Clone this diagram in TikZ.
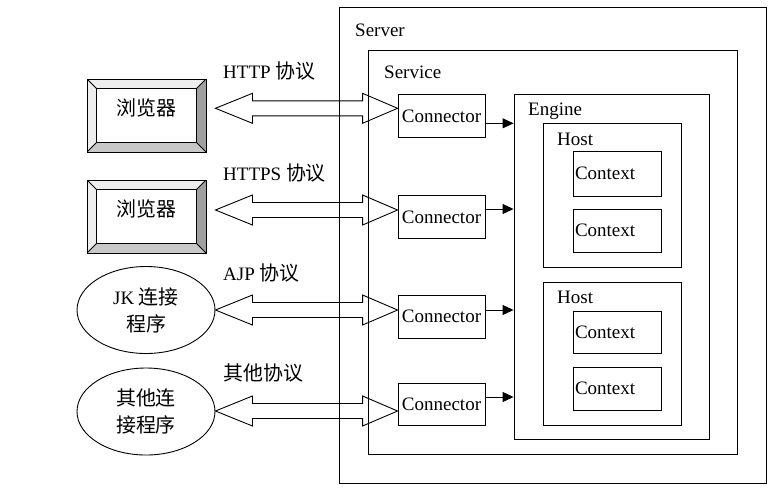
\documentclass[tikz,border=0pt]{standalone}
\usepackage{fontspec}
\setmainfont{Liberation Serif}
\newfontfamily\cjk[Scale=1.05]{Noto Sans CJK SC}
\usetikzlibrary{arrows.meta,positioning,calc,shapes.geometric}
\definecolor{bevellight}{RGB}{238,238,238}
\definecolor{bevelmid}{RGB}{200,200,200}
\definecolor{beveldark}{RGB}{160,160,160}
\tikzset{frame/.style={draw,line width=0.9pt,inner sep=0pt},tag/.style={anchor=base west,inner sep=0pt,font=\fontsize{19}{27}\selectfont},part/.style={frame,fill=white,font=\fontsize{19}{27}\selectfont},ctxbox/.style={part,text width=84pt,align=left,inner xsep=2pt},client/.style={draw,ellipse,line width=0.9pt,minimum width=138pt,minimum height=87pt,align=center,inner sep=0pt,font=\fontsize{19}{27}\selectfont},bevel/.style={draw,line width=0.9pt,minimum width=119pt,minimum height=73pt,inner sep=0pt,text height=0pt,text depth=0pt,font=\fontsize{19}{27}\selectfont,path picture={
\path (path picture bounding box.north west) coordinate (o1) (path picture bounding box.north east) coordinate (o2) (path picture bounding box.south east) coordinate (o3) (path picture bounding box.south west) coordinate (o4);
\path ([shift={(9.5pt,-9.5pt)}]o1) coordinate (i1) ([shift={(-9.5pt,-9.5pt)}]o2) coordinate (i2) ([shift={(-9.5pt,9.5pt)}]o3) coordinate (i3) ([shift={(9.5pt,9.5pt)}]o4) coordinate (i4);
\fill[bevellight] (o1)--(o2)--(i2)--(i1)--cycle (o1)--(i1)--(i4)--(o4)--cycle;
\fill[bevelmid] (o4)--(i4)--(i3)--(o3)--cycle;
\fill[beveldark] (o2)--(o3)--(i3)--(i2)--cycle;
\draw[line width=0.9pt] (o1)--(i1) (o2)--(i2) (o3)--(i3) (o4)--(i4) (i1) rectangle (i3);}},blockarrow/.style={draw,line width=0.9pt,line join=miter},feed/.style={-{Triangle[length=11pt,width=10pt]},line width=0.9pt}}

\begin{document}
\begin{tikzpicture}[x=1pt,y=-1pt]
\useasboundingbox (0,0) rectangle (779,499);
% containers
\node[frame,minimum width=427pt,minimum height=476pt] (server) at (552.5,245) {};
\node[frame,minimum width=369pt,minimum height=404pt] (service) at (552.5,252) {};
\node[frame,minimum width=195pt,minimum height=345pt] (engine) at (611.5,266.5) {};
\node[frame,minimum width=138pt,minimum height=144pt] (host1) at (612,195) {};
\node[frame,minimum width=138pt,minimum height=143pt] (host2) at (612,353.5) {};
\node[tag] (serverlabel) at (355,36) {Server};
\node[tag] (servicelabel) at (384,78) {Service};
\node[tag] (enginelabel) at (528,115) {Engine};
\node[tag] (host1label) at (557,145) {Host};
\node[tag] (host2label) at (557,303) {Host};
% contexts
\node[ctxbox,minimum height=45pt] (ctx1) at (617,173.5) {Context};
\node[ctxbox,minimum height=43pt] (ctx2) at (617,230.5) {Context};
\node[ctxbox,minimum height=42pt] (ctx3) at (617,332) {Context};
\node[ctxbox,minimum height=43pt] (ctx4) at (617,388.5) {Context};
% connectors
\node[part,minimum width=87pt,minimum height=43pt] (conn1) at (441.5,115.8) {Connector};
\node[part,minimum width=87pt,minimum height=43pt] (conn2) at (441.5,217) {Connector};
\node[part,minimum width=87pt,minimum height=43pt] (conn3) at (441.5,316.5) {Connector};
\node[part,minimum width=87pt,minimum height=42pt] (conn4) at (441.5,404) {Connector};
% clients
\node[bevel] (br1) at (146.5,115.5) {\cjk 浏览器};
\node[bevel] (br2) at (146.5,216.5) {\cjk 浏览器};
\node[client] (jk) at (146,310) {JK {\cjk 连接}\\{\cjk 程序}};
\node[client] (other) at (146,411.5) {\cjk 其他连\\\cjk 接程序};
% protocols
\node[tag] (http) at (223,78) {HTTP {\cjk 协议}};
\node[tag] (https) at (223,180) {HTTPS {\cjk 协议}};
\node[tag] (ajp) at (223,280) {AJP {\cjk 协议}};
\node[tag] (otherproto) at (223,380) {\cjk 其他协议};
\foreach \src/\dst/\dy/\gap in {br1/conn1/-7.5/9pt,br2/conn2/-7/9pt,jk/conn3/-6.5/0pt,other/conn4/7/0pt}
  \draw[blockarrow] let \p1=(\src.east),\p2=($(\dst.west)+(0,\dy)$) in
    (\x1+\gap,\y2) -- (\x1+\gap+37pt,\y2+15pt) -- (\x1+\gap+37pt,\y2+7.5pt) -- (\x2-35pt,\y2+7.5pt) -- (\x2-35pt,\y2+15pt) -- (\x2,\y2)
    -- (\x2-35pt,\y2-15pt) -- (\x2-35pt,\y2-7.5pt) -- (\x1+\gap+37pt,\y2-7.5pt) -- (\x1+\gap+37pt,\y2-15pt) -- cycle;
\foreach \c/\dy in {conn1/7.5,conn2/-8,conn3/-6.5,conn4/-7}
  \draw[feed] let \p1=($(\c.east)+(0,\dy)$),\p2=(engine.west) in (\p1) -- (\x2,\y1);
\end{tikzpicture}
\end{document}
